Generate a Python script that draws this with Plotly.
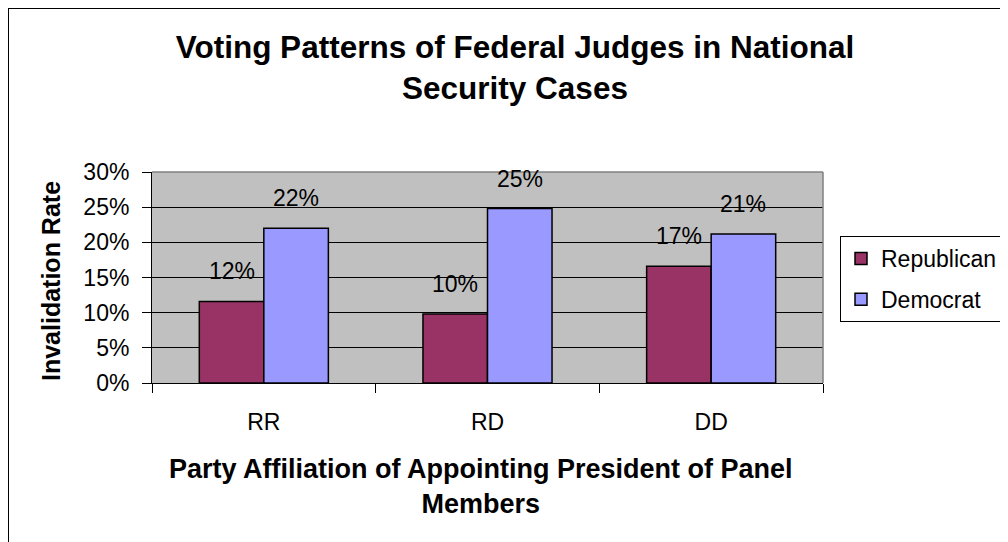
import plotly.graph_objects as go

# ---- data ----
categories = ["RR", "RD", "DD"]
series_names = ["Republican", "Democrat"]
republican = [0.116, 0.098, 0.166]
democrat = [0.220, 0.248, 0.212]
y_ticks = [0, 0.05, 0.10, 0.15, 0.20, 0.25, 0.30]
y_tick_labels = ["0%", "5%", "10%", "15%", "20%", "25%", "30%"]

title_text = "Voting Patterns of Federal Judges in National<br>Security Cases"
x_title = "Party Affiliation of Appointing President of Panel<br>Members"
y_title = "Invalidation Rate"

# ---- layout geometry ----
# the page body adds an 8px margin, so screen = figure + 8
OFF = 8
W, H = 1008 - OFF, 542 - OFF
L, R, T, B = 152 - OFF, 823 - OFF, 172 - OFF, 383 - OFF
PW, PH = R - L, B - T
FONT = "Liberation Sans, Arial, sans-serif"
BARGAP = 0.423


def px_x(screen_x):
    return (screen_x - OFF - L) / PW


def px_y(screen_y):
    return (B - (screen_y - OFF)) / PH


fig = go.Figure()
fig.add_bar(x=categories, y=republican, name=series_names[0], legendgroup="rep",
            marker=dict(color="#993366", line=dict(color="black", width=1.5)))
fig.add_bar(x=categories, y=democrat, name=series_names[1], legendgroup="dem",
            marker=dict(color="#9999FF", line=dict(color="black", width=1.5)))

cat_w = PW / len(categories)
bar_w = cat_w * (1 - BARGAP) / 2
for vals, sign in ((republican, -1), (democrat, 1)):
    for c, v in zip(categories, vals):
        fig.add_annotation(x=c, y=v, xref="x", yref="y", text=f"{v:.0%}",
                           showarrow=False, xshift=sign * bar_w / 2, yshift=30,
                           font=dict(size=23, color="black", family=FONT))

# axis titles
fig.add_annotation(x=px_x(51), y=px_y(281), xref="paper", yref="paper",
                   text=y_title, textangle=-90, showarrow=False,
                   xanchor="center", yanchor="middle",
                   font=dict(size=25, color="black", family=FONT, weight="bold"))
fig.add_annotation(x=px_x(481), y=px_y(486), xref="paper", yref="paper",
                   text=x_title, showarrow=False,
                   xanchor="center", yanchor="middle",
                   font=dict(size=27, color="black", family=FONT, weight="bold"))

# plot-area border (top/right, grey) and outer chart border
fig.add_shape(type="line", xref="paper", yref="paper", x0=0, x1=1, y0=1, y1=1,
              line=dict(color="#808080", width=1.5), layer="above")
fig.add_shape(type="line", xref="paper", yref="paper", x0=1, x1=1, y0=0, y1=1,
              line=dict(color="#808080", width=1.5), layer="above")
fig.add_shape(type="rect", xref="paper", yref="paper",
              x0=px_x(8), x1=px_x(1030), y0=px_y(560), y1=px_y(8),
              line=dict(color="black", width=2), layer="above")

fig.update_layout(
    width=W, height=H,
    margin=dict(l=L, r=W - R, t=T, b=H - B, pad=0, autoexpand=False),
    paper_bgcolor="white", plot_bgcolor="#C0C0C0",
    barmode="group", bargap=BARGAP, bargroupgap=0,
    font=dict(family=FONT, color="black"),
    title=dict(text=title_text, xref="container", x=(515 - OFF) / W, xanchor="center",
               yref="container", y=1 - 50 / H, yanchor="top",
               font=dict(size=31.5, color="black", family=FONT, weight="bold")),
    legend=dict(x=px_x(840), xanchor="left", y=px_y(236), yanchor="top",
                bgcolor="white", bordercolor="black", borderwidth=1,
                font=dict(size=23, color="black", family=FONT),
                traceorder="grouped", tracegroupgap=8),
    showlegend=True,
)
fig.update_xaxes(type="category", showgrid=False, showline=True, linecolor="black",
                 linewidth=1, ticks="outside", tickson="boundaries", ticklen=9,
                 tickcolor="black", tickfont=dict(size=23, color="black", family=FONT),
                 ticklabelstandoff=18)
fig.update_yaxes(range=[0, 0.30], tickvals=y_ticks, ticktext=y_tick_labels,
                 showgrid=True, gridcolor="black", gridwidth=1, zeroline=False,
                 showline=True, linecolor="black", linewidth=1,
                 ticks="outside", ticklen=9, tickcolor="black",
                 tickfont=dict(size=23, color="black", family=FONT),
                 ticklabelstandoff=8)

fig.write_html("out.html")
